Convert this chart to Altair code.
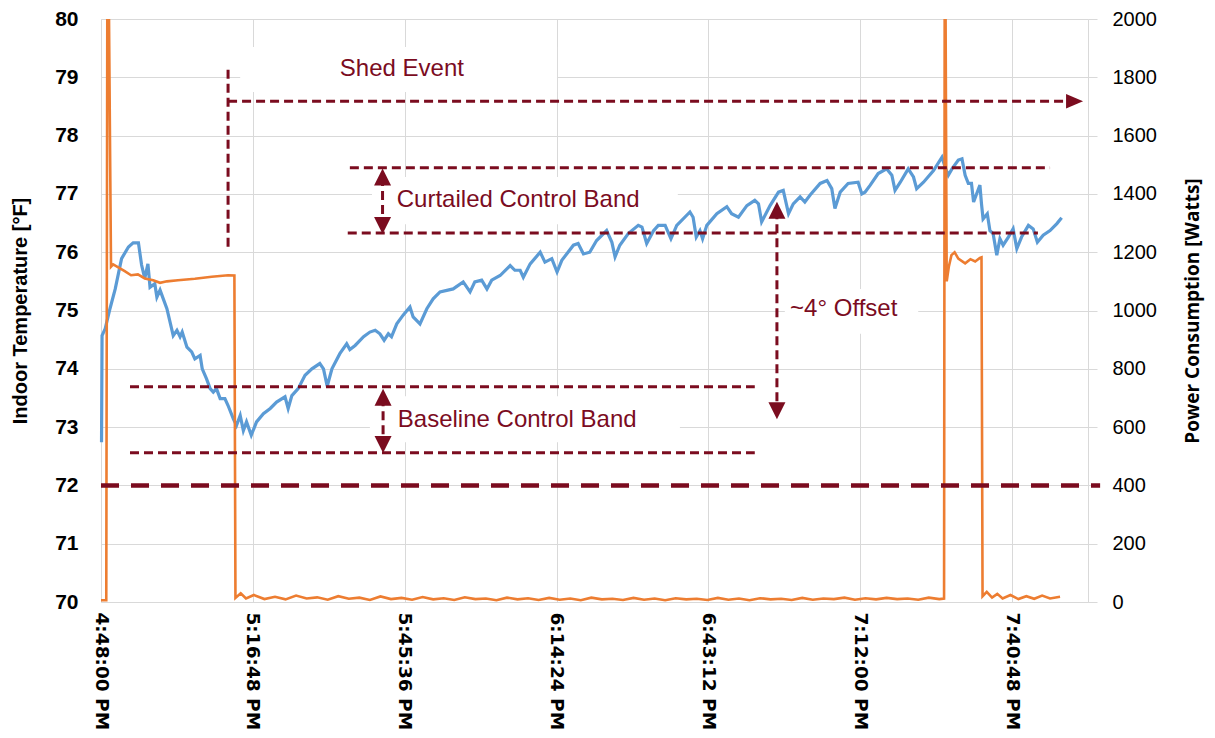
import altair as alt
import pandas as pd

# ---------------- data (x = minutes after 4:48:00 PM) ----------------
tick_minutes = [0, 28.8, 57.6, 86.4, 115.2, 144.0, 172.8]
tick_labels = ["4:48:00 PM", "5:16:48 PM", "5:45:36 PM", "6:14:24 PM",
               "6:43:12 PM", "7:12:00 PM", "7:40:48 PM"]
x_domain = [0, 187.2]
temp_domain = [70, 80]
power_domain = [0, 2000]
temp_ticks = [70, 71, 72, 73, 74, 75, 76, 77, 78, 79, 80]
power_ticks = [0, 200, 400, 600, 800, 1000, 1200, 1400, 1600, 1800, 2000]

# Indoor temperature [F]
temp_points = [
    (0.1, 72.74), (0.2, 74.57), (0.8, 74.69), (1.7, 75.03), (2.7, 75.37), (3.9, 75.89),
    (5.2, 76.09), (6.1, 76.16), (7.1, 76.16), (7.7, 75.78), (8.3, 75.55), (8.9, 75.80),
    (9.3, 75.40), (10.2, 75.46), (10.6, 75.23), (11.2, 75.35), (12.5, 75.03), (13.7, 74.57),
    (14.4, 74.66), (15.0, 74.55), (15.4, 74.63), (16.3, 74.37), (17.2, 74.29), (17.8, 74.17),
    (18.8, 74.23), (19.2, 74.00), (20.0, 73.83), (20.7, 73.66), (21.3, 73.60), (21.9, 73.66),
    (22.6, 73.49), (23.5, 73.49), (24.1, 73.37), (25.1, 73.14), (25.7, 73.03), (26.4, 73.20),
    (27.0, 72.94), (27.6, 73.09), (28.5, 72.86), (29.5, 73.09), (30.8, 73.23), (32.1, 73.32),
    (33.3, 73.43), (34.9, 73.52), (35.5, 73.32), (36.2, 73.54), (37.4, 73.66), (38.7, 73.89),
    (40.0, 74.00), (41.5, 74.09), (42.2, 74.00), (42.9, 73.70), (43.8, 74.00), (45.3, 74.26),
    (46.6, 74.43), (47.2, 74.33), (48.2, 74.40), (49.8, 74.55), (51.0, 74.63), (52.0, 74.66),
    (52.9, 74.60), (53.7, 74.49), (54.5, 74.60), (55.1, 74.55), (56.1, 74.77), (57.3, 74.92),
    (58.6, 75.06), (59.2, 74.89), (60.5, 74.77), (61.8, 75.03), (63.0, 75.20), (64.3, 75.32),
    (66.8, 75.37), (68.7, 75.49), (70.0, 75.32), (70.9, 75.49), (72.2, 75.52), (73.2, 75.37),
    (74.1, 75.52), (75.7, 75.60), (77.6, 75.77), (78.5, 75.69), (79.5, 75.69), (80.1, 75.57),
    (81.4, 75.80), (83.3, 76.00), (84.2, 75.83), (85.5, 75.89), (86.5, 75.66), (87.4, 75.86),
    (89.6, 76.12), (90.5, 76.15), (91.5, 75.97), (92.7, 76.00), (94.0, 76.20), (95.9, 76.37),
    (96.9, 76.17), (97.5, 75.92), (98.4, 76.12), (100.0, 76.32), (101.9, 76.46), (102.6, 76.43),
    (103.5, 76.15), (104.8, 76.37), (105.7, 76.46), (107.0, 76.46), (108.1, 76.23), (109.2, 76.46),
    (111.7, 76.69), (112.3, 76.60), (112.9, 76.26), (113.6, 76.37), (114.1, 76.23), (114.9, 76.46),
    (116.8, 76.66), (118.7, 76.78), (119.6, 76.66), (120.9, 76.60), (122.5, 76.80), (124.0, 76.89),
    (124.7, 76.83), (125.3, 76.52), (126.9, 76.80), (128.5, 77.03), (129.4, 77.06), (130.4, 76.66),
    (131.3, 76.83), (132.6, 76.95), (133.5, 76.86), (134.5, 76.98), (136.4, 77.18), (137.7, 77.23),
    (138.6, 77.09), (139.2, 76.75), (140.2, 77.03), (141.7, 77.18), (143.6, 77.20), (144.3, 77.00),
    (144.9, 77.03), (145.9, 77.15), (147.4, 77.35), (149.0, 77.43), (150.0, 77.32), (150.6, 77.06),
    (151.6, 77.20), (153.1, 77.43), (154.1, 77.29), (154.7, 77.09), (156.0, 77.20), (157.9, 77.40),
    (159.5, 77.63), (160.1, 77.46), (160.7, 77.32), (161.4, 77.43), (162.6, 77.58), (163.3, 77.60),
    (163.9, 77.32), (164.5, 77.18), (165.1, 77.18), (165.5, 76.86), (166.7, 77.15), (167.0, 76.83),
    (167.3, 76.57), (168.1, 76.66), (168.6, 76.37), (169.2, 76.32), (169.9, 75.95), (170.5, 76.23),
    (171.1, 76.12), (172.1, 76.26), (173.0, 76.40), (173.7, 76.06), (174.6, 76.26), (175.9, 76.46),
    (176.8, 76.40), (177.6, 76.17), (178.7, 76.29), (180.0, 76.37), (181.3, 76.49), (182.2, 76.59),
]

# Power consumption [W]
power_points = [
    (0.0, 6), (1.0, 6), (1.25, 2600), (1.9, 1150), (2.3, 1158), (3.2, 1149), (4.5, 1135),
    (5.7, 1121), (7.0, 1124), (8.3, 1110), (9.9, 1104), (11.2, 1095), (12.5, 1100),
    (14.6, 1104), (17.8, 1109), (21.0, 1116), (24.1, 1121), (25.3, 1120), (25.5, 14),
    (26.5, 30), (27.5, 12), (29.0, 24), (31.0, 10), (33.0, 18), (35.0, 9), (37.0, 22),
    (39.0, 12), (41.0, 16), (43.0, 8), (45.0, 20), (47.0, 11), (49.0, 15), (51.0, 7),
    (53.0, 19), (55.0, 10), (57.0, 14), (59.0, 8), (61.0, 17), (63.0, 9), (65.0, 13),
    (67.0, 7), (69.0, 16), (71.0, 10), (73.0, 12), (75.0, 6), (77.0, 15), (79.0, 9),
    (81.0, 13), (83.0, 7), (85.0, 14), (87.0, 8), (89.0, 12), (91.0, 6), (93.0, 15),
    (95.0, 9), (97.0, 11), (99.0, 7), (101.0, 14), (103.0, 8), (105.0, 12), (107.0, 6),
    (109.0, 13), (111.0, 9), (113.0, 11), (115.0, 7), (117.0, 14), (119.0, 8), (121.0, 12),
    (123.0, 6), (125.0, 13), (127.0, 9), (129.0, 11), (131.0, 7), (133.0, 14), (135.0, 8),
    (137.0, 12), (139.0, 10), (141.0, 15), (143.0, 8), (145.0, 13), (147.0, 9), (149.0, 14),
    (151.0, 10), (153.0, 12), (155.0, 8), (157.0, 15), (159.0, 10), (159.9, 12),
    (160.05, 2600), (160.4, 1100), (160.8, 1150), (161.3, 1190), (161.9, 1200), (162.6, 1178),
    (163.9, 1162), (164.9, 1176), (165.8, 1168), (166.7, 1180), (167.0, 1182), (167.2, 20),
    (168.0, 35), (169.0, 15), (170.0, 28), (171.0, 12), (172.5, 24), (174.0, 10),
    (175.5, 20), (177.0, 11), (178.5, 22), (180.0, 12), (181.9, 18),
]

# Annotations (time in minutes, temperature in F)
hseg_t0 = [24.1, 47.2, 46.8, 5.5, 5.5]
hseg_t1 = [183.2, 180.0, 177.7, 124.0, 124.0]
hseg_temp = [78.59, 77.45, 76.33, 73.69, 72.56]

vseg_t = [24.1, 53.4, 53.5, 128.2]
vseg_top = [79.13, 77.29, 73.51, 76.72]
vseg_bottom = [76.04, 76.46, 72.70, 73.28]

thick_t = [0.0, 189.5]
thick_temp = 72

head_t = [184.65, 53.4, 53.4, 53.5, 53.5, 128.2, 128.2]
head_temp = [78.59, 77.29, 76.46, 73.51, 72.70, 76.72, 73.28]
head_dir = ["right", "up", "down", "up", "down", "up", "down"]

note_text = ["Shed Event", "Curtailed Control Band", "Baseline Control Band", "~4° Offset"]
note_t = [45.3, 56.1, 56.3, 130.7]
note_temp = [79.14, 76.89, 73.12, 75.03]

box_t0 = [26.4, 51.4, 51.0, 129.7]
box_t1 = [86.5, 109.4, 109.8, 155.0]
box_lo = [78.75, 76.48, 72.74, 74.60]
box_hi = [79.52, 77.29, 73.53, 75.37]

# ---------------- styling ----------------
DARK = "#7B0C1F"
BLUE = "#5B9BD5"
ORANGE = "#ED7D31"
GRID = "#D9D9D9"

temp_df = pd.DataFrame(temp_points, columns=["t", "temp"])
power_df = pd.DataFrame(power_points, columns=["t", "watts"])
hseg_df = pd.DataFrame({"t0": hseg_t0, "t1": hseg_t1, "temp": hseg_temp})
vseg_df = pd.DataFrame({"t": vseg_t, "top": vseg_top, "bottom": vseg_bottom})
thick_df = pd.DataFrame({"t0": [thick_t[0]], "t1": [thick_t[1]], "temp": [thick_temp]})
head_df = pd.DataFrame({"t": head_t, "temp": head_temp, "dir": head_dir})
note_df = pd.DataFrame({"label": note_text, "t": note_t, "temp": note_temp})
box_df = pd.DataFrame({"t0": box_t0, "t1": box_t1, "lo": box_lo, "hi": box_hi})

label_expr = "[" + ",".join("'" + s + "'" for s in tick_labels) + "][round(datum.value/28.8)]"

x_scale = alt.Scale(domain=x_domain, nice=False, zero=False)
t_scale = alt.Scale(domain=temp_domain, nice=False, zero=False)
p_scale = alt.Scale(domain=power_domain, nice=False)

x_axis = alt.Axis(values=tick_minutes, labelExpr=label_expr, labelAngle=90,
                  labelAlign="left", labelBaseline="middle",
                  labelFont="DejaVu Sans", labelFontWeight="bold", labelFontSize=18.5,
                  labelColor="black", labelPadding=10, tickSize=0,
                  grid=True, gridColor=GRID, gridWidth=1,
                  domainColor=GRID, title=None, labelOverlap=False)
left_axis = alt.Axis(values=temp_ticks, title="Indoor Temperature [°F]",
                     titleFont="Liberation Sans Narrow, Liberation Sans", titleFontWeight="bold",
                     titleFontSize=20, titleColor="black", titlePadding=24,
                     labelFont="Liberation Sans Narrow, Liberation Sans", labelFontWeight="bold",
                     labelFontSize=21, labelColor="black", labelPadding=23, tickSize=0,
                     grid=True, gridColor=GRID, gridWidth=1, domainColor=GRID)
right_axis = alt.Axis(values=power_ticks, format="d", orient="right",
                      title="Power Consumption [Watts]",
                      titleFont="Open Sans", titleFontWeight="bold", titleFontSize=19,
                      titleColor="black", titlePadding=27, titleAngle=270,
                      titleBaseline="top",
                      labelFont="Liberation Sans", labelFontSize=20, labelColor="black",
                      labelPadding=15, tickSize=9, tickColor=GRID, grid=False,
                      domainColor=GRID)

X = lambda f: alt.X(f, type="quantitative", scale=x_scale, axis=x_axis)

boxes = alt.Chart(box_df).mark_rect(color="white").encode(
    x=X("t0"), x2="t1",
    y=alt.Y("lo:Q", scale=t_scale, axis=left_axis), y2="hi")

blue = alt.Chart(temp_df).mark_line(color=BLUE, strokeWidth=3.2).encode(
    x=X("t"), y=alt.Y("temp:Q", scale=t_scale, axis=left_axis))

temp_group = alt.layer(boxes, blue)

orange = alt.Chart(power_df).mark_line(color=ORANGE, strokeWidth=2.6, clip=True).encode(
    x=X("t"), y=alt.Y("watts:Q", scale=p_scale, axis=right_axis))

hsegs = alt.Chart(hseg_df).mark_rule(color=DARK, strokeWidth=3, strokeDash=[9, 5]).encode(
    x=X("t0"), x2="t1", y=alt.Y("temp:Q", scale=t_scale, axis=None))
vsegs = alt.Chart(vseg_df).mark_rule(color=DARK, strokeWidth=3, strokeDash=[9, 5]).encode(
    x=X("t"), y=alt.Y("top:Q", scale=t_scale, axis=None), y2="bottom")
thick = alt.Chart(thick_df).mark_rule(color=DARK, strokeWidth=4.5, strokeDash=[18, 12]).encode(
    x=X("t0"), x2="t1", y=alt.Y("temp:Q", scale=t_scale, axis=None))
heads = alt.Chart(head_df).mark_point(filled=True, opacity=1, color=DARK, size=289).encode(
    x=X("t"), y=alt.Y("temp:Q", scale=t_scale, axis=None),
    shape=alt.Shape("dir:N", legend=None,
                    scale=alt.Scale(domain=["up", "down", "right"],
                                    range=["M0,-1L1,1L-1,1Z", "M0,1L1,-1L-1,-1Z",
                                           "M1,0L-1,-0.85L-1,0.85Z"])))
notes = alt.Chart(note_df).mark_text(align="left", baseline="middle", color=DARK,
                                     font="Liberation Sans", fontSize=24).encode(
    x=X("t"), y=alt.Y("temp:Q", scale=t_scale, axis=None), text="label:N")

annot_group = alt.layer(thick, hsegs, vsegs, heads, notes)

chart = alt.layer(temp_group, orange, annot_group).resolve_scale(
    y="independent"
).properties(
    width=987, height=583,
    autosize=alt.AutoSizeParams(type="none"),
    padding={"left": 93, "top": 11, "right": 119, "bottom": 128},
    background="white",
).configure_view(stroke=None)

chart.save("out.html", embed_options={"renderer": "svg", "actions": False})
